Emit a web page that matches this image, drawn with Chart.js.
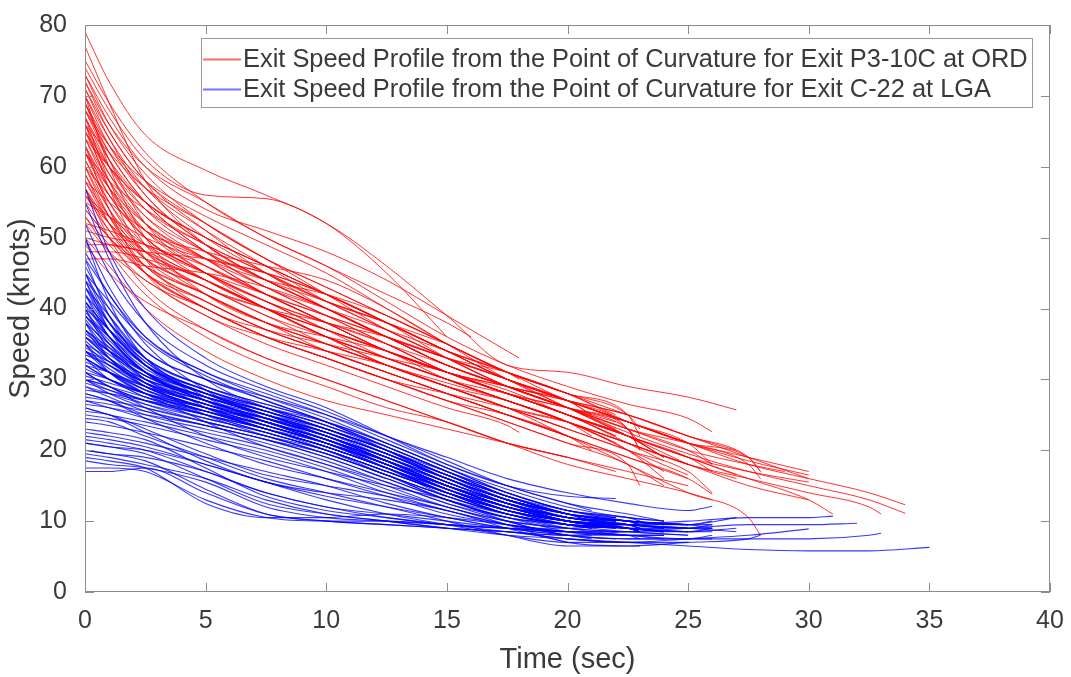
<!DOCTYPE html>
<html>
<head>
<meta charset="utf-8">
<script src="https://cdn.jsdelivr.net/npm/chart.js@4.4.0/dist/chart.umd.min.js"></script>
<style>
html, body { margin: 0; padding: 0; background: #fff; }
</style>
</head>
<body>
<canvas id="grafico" width="1071" height="677"></canvas>
<script>
// tiempos de muestreo (sec); el ultimo valor de cada perfil va en su tiempo final
const tiempos = [0, 1, 2.5, 5, 7.5, 10, 12.5, 15, 17.5, 20, 22.5, 25, 27.5, 30, 32.5];
const xTicks = [0, 5, 10, 15, 20, 25, 30, 35, 40];
const yTicks = [0, 10, 20, 30, 40, 50, 60, 70, 80];

const etiquetaOrd = 'Exit Speed Profile from the Point of Curvature for Exit P3-10C at ORD';
const etiquetaLga = 'Exit Speed Profile from the Point of Curvature for Exit C-22 at LGA';

// ORD P3-10C (rojo)
const ordFin = [15, 27, 26, 34, 34, 31, 30, 29, 25, 24, 23, 22, 20, 21, 26, 28, 24, 22, 27, 25,
  20, 23, 18, 26, 24, 30, 16, 20, 22, 25, 26, 28, 23, 21, 20, 22, 27, 24, 25, 26,
  21, 28, 33, 30, 18, 23, 15, 24, 20, 22, 25, 22, 26, 20,
  24, 22, 20, 25, 23, 26, 21, 24, 27, 20, 28, 30, 30, 18, 25, 23];
const ordVel = [
  [79, 72, 64.5, 59.5, 56, 52, 45, 36],
  [74, 68, 61, 56, 55.5, 52, 46, 39, 32, 31, 29, 27.5, 25.7],
  [72, 66, 60, 55, 50, 46, 41, 36, 32, 29, 26.5, 24.5, 22.6],
  [71, 65, 58, 52, 47, 43, 39, 35, 31, 27, 24, 21, 18, 16, 14, 12.3],
  [69, 63, 57, 51, 46, 41, 37, 33, 29, 26, 22.5, 19.5, 17, 15, 13, 11.1],
  [68, 62, 55, 48, 43, 39, 35, 31, 28, 25, 22, 19, 16, 13, 11],
  [67, 60, 53, 47, 42, 38, 34, 31, 28.5, 25, 22, 19, 17, 15.5],
  [66, 59, 52, 46, 42, 39, 36, 32, 29, 26, 23, 20, 18, 17],
  [65, 58, 51, 45, 40, 36, 33, 30, 27, 24, 21, 18],
  [64, 58, 52, 47, 43, 39, 35, 31, 28, 25, 21, 18.5],
  [70, 64, 57, 50, 45, 40, 36, 32, 29, 26, 23, 21],
  [63, 56, 50, 44, 40, 37, 34, 31, 28, 25, 22],
  [62, 55, 48, 42, 38, 35, 32, 29, 26, 23],
  [61, 55, 49, 44, 40, 37, 34, 30, 27, 24, 22],
  [60, 54, 48, 43, 40, 37, 34, 31, 28, 25, 22, 19, 17],
  [59, 53, 47, 43, 39, 36, 33, 30, 28, 26, 24, 21, 18, 16],
  [58, 53, 48, 44, 40, 36, 33, 30, 27, 24, 20, 17],
  [57, 52, 47, 43, 39, 35, 32, 29, 27, 24, 21],
  [56, 51, 46, 42, 38, 35, 32, 29.5, 27, 24, 21, 18, 16],
  [55, 50, 45, 41, 37, 34, 31, 28, 25, 22, 19, 16],
  [54, 50, 46, 42, 38, 34, 31, 28, 25, 22],
  [53, 49, 44, 40, 36, 33, 30, 27, 24, 21, 18, 15],
  [52, 48, 44, 39, 35, 32, 29, 26, 23.5, 22.5],
  [50, 49, 48, 44, 40, 36, 32, 29, 26, 23, 20, 17, 14],
  [48, 48, 47, 44, 40, 36, 33, 30, 27, 24, 20, 16],
  [51, 50, 49, 45, 41, 37, 33, 30, 27, 24, 21, 18, 15, 13],
  [75, 69, 62, 55, 50, 46, 42, 38, 36],
  [73, 66, 59, 52, 47, 43, 39, 35, 31, 28],
  [72, 65, 58, 51, 45, 41, 38, 34, 31, 28, 25],
  [70, 63, 56, 49, 44, 40, 36, 33, 30, 27, 24, 21],
  [69, 62, 55, 48, 43, 40, 37, 34, 31, 28, 24, 21, 18],
  [68, 61, 54, 48, 44, 41, 38, 34, 30, 27, 24, 21, 19, 17],
  [67, 61, 55, 50, 46, 42, 38, 34, 30, 27, 23, 20],
  [66, 60, 54, 49, 45, 41, 37, 33, 30, 27, 25],
  [65, 59, 53, 48, 44, 40, 36, 33, 30, 27],
  [64, 57, 50, 45, 41, 38, 35, 32, 29, 26, 23],
  [63, 57, 51, 46, 42, 38, 34, 31, 28, 25, 22, 19, 16.5],
  [62, 56, 50, 45, 41, 37, 34, 31, 28, 25, 22, 19],
  [61, 54, 47, 42, 38, 35, 32, 29, 26, 23, 20, 16.5],
  [60, 53, 46, 41, 37, 34, 31, 28, 25, 22, 19, 16, 13.8],
  [59, 52, 45, 40, 36, 33, 30, 27, 25, 22, 20],
  [58, 52, 46, 41, 37, 34, 31, 28, 25, 22, 18, 14, 10.5, 8],
  [57, 51, 45, 40, 36, 33, 30, 28, 26, 24, 21, 18, 16, 14, 12, 11],
  [71, 64, 56, 49, 44, 40, 36, 32, 29, 26, 23, 21, 19, 17],
  [64, 60, 55, 50, 46, 42, 38, 34, 31, 30],
  [68, 63, 58, 53, 49, 45, 40, 35, 31, 28, 25, 23],
  [62, 58, 54, 49, 45, 41, 38, 35],
  [54, 50, 45, 40, 36, 33, 30, 27, 24, 21, 18, 15],
  [56, 52, 48, 44, 40, 36, 32, 29, 26, 22],
  [66, 62, 57, 52, 47, 42, 37, 33, 29, 26, 24],
  [50, 46, 40, 34, 30, 27, 25, 23, 21, 19, 17, 15],
  [53, 48, 42, 36, 32, 29, 26, 24, 21, 19, 17],
  [49, 45, 41, 37, 33, 30, 27, 24, 21, 18, 16, 14, 13],
  [57, 50, 43, 37, 33, 30, 27, 24, 21, 19],
  [66, 57, 47, 40, 37, 35, 33, 31, 28, 25, 22, 19],
  [70, 60, 50, 42, 38, 36, 34, 31, 28, 25, 22],
  [63, 54, 45, 39, 36, 34, 32, 29, 26, 24],
  [49, 49, 48, 47, 45, 42, 38, 34, 30, 27, 24, 21],
  [47, 47, 46, 45, 43, 40, 36, 32, 29, 26, 23, 20],
  [55, 53, 50, 47, 45, 42, 38, 33, 29, 26, 23, 20, 18],
  [77, 69, 58, 49, 44, 40, 36, 32, 29, 27, 25],
  [60, 56, 51, 48, 46, 44, 40, 35, 30, 26, 22, 19],
  [58, 55, 51, 47, 44, 42, 39, 35, 31, 28, 25, 22, 20],
  [67, 58, 49, 43, 40, 38, 35, 31, 28, 26],
  [52, 51, 49, 46, 42, 38, 34, 31, 29, 27, 25, 22, 19, 17],
  [62, 57, 52, 47, 42, 38, 34, 31, 29, 27, 25, 22, 19, 16],
  [65, 60, 55, 50, 46, 42, 38, 34, 30, 27, 24, 21, 18.5, 16.5],
  [73, 67, 60, 54, 51, 48, 44, 39, 34, 33],
  [69, 61, 52, 45, 41, 38, 36, 33, 30, 26, 22, 18],
  [56, 53, 49, 45, 42, 39, 36, 33, 31, 28, 25, 22]
];

// LGA C-22 (azul)
const lgaFin = [22, 26, 24, 23, 25, 21, 22, 26, 20, 23, 24, 22, 25, 21, 23, 27, 20, 22, 24, 26,
  23, 21, 25, 22, 20, 24, 23, 26, 30, 35, 33, 32, 31, 26, 24, 22, 25, 28, 20, 23,
  26, 22, 21, 24, 20, 23, 25, 22, 21, 24, 26, 22, 23, 25, 20, 24, 21, 22, 23, 20,
  26, 27, 22, 24, 21, 25, 20, 24, 23, 21,
  22, 24, 23, 21, 25, 22, 26, 20, 24, 23, 21, 22, 25, 24, 20, 26, 23, 22, 21, 24,
  25, 22, 23, 20, 26, 24, 21, 22, 27, 23];
const lgaVel = [
  [57, 48, 40, 33, 29, 26, 22, 18, 15, 13.5, 13.2],
  [52, 45, 38, 32, 28.5, 25.5, 22, 19, 16, 14, 12.5, 11.5, 12.1],
  [50, 43, 36, 31, 28, 25, 21.5, 18, 15, 12.5, 11, 10],
  [48, 42, 36, 31, 27.5, 24.5, 21, 17.5, 14, 11.5, 10.5, 10],
  [46, 40, 34, 30, 27, 24, 20.5, 17, 14, 11.5, 10, 9.5],
  [45, 39, 33, 29, 26.5, 24, 20, 16, 13, 11, 10],
  [44, 38, 33, 29, 26, 23, 20, 17, 14, 11.5, 10.5],
  [43, 37, 32, 28.5, 26, 23.5, 20, 16, 13, 11, 10, 9.5, 9],
  [42, 37, 32, 28, 25, 22, 19, 16, 13, 11],
  [41, 36, 31, 27.5, 25, 22.5, 19.5, 16, 13, 10.5, 9.5, 9],
  [40, 35, 31, 27.5, 25, 22, 19, 15.5, 12.5, 10, 9, 8.5],
  [39, 35, 30, 27, 24.5, 22, 18.5, 15, 12, 10, 9.5],
  [38, 34, 30, 27, 24.5, 21.5, 18, 15, 12.5, 10.5, 9.5, 9],
  [37, 33, 29.5, 26.5, 24, 21, 18, 14.5, 12, 10, 9.5],
  [36, 33, 29, 26, 23.5, 21, 18, 15, 12, 10, 9, 8.5],
  [35, 32, 29, 26, 23.5, 21, 18.5, 15.5, 12.5, 10.5, 9.5, 9, 8.5],
  [34, 31, 28, 25.5, 23, 20.5, 17.5, 14.5, 12, 10.5],
  [33, 30, 28, 25, 23, 20.5, 17.5, 14.5, 11.5, 9.5, 9],
  [32, 30, 27.5, 25, 22.5, 20, 17, 14, 11.5, 10, 9, 9],
  [31, 29, 27, 24.5, 22.5, 20, 17, 14, 11.5, 10, 9, 8.5, 8.5],
  [30, 28, 26, 24, 22, 19.5, 16.5, 13.5, 11, 9.5, 9, 8.5],
  [29, 27.5, 25.5, 23.5, 21.5, 19, 16, 13, 11, 9.5, 9],
  [28, 27, 25, 23, 21, 18.5, 15.5, 12.5, 10.5, 9, 8.5, 8],
  [27, 26, 24.5, 22.5, 20.5, 18, 15, 12, 10, 9, 8.5],
  [26, 25, 24, 22, 20, 17.5, 14.5, 12, 10, 9],
  [25, 24.5, 23.5, 21.5, 19.5, 17, 14, 11.5, 9.5, 8.5, 8, 8],
  [24, 23.5, 22.5, 20.5, 18.5, 16, 13.5, 11, 9.5, 8.5, 8, 7.5],
  [22.5, 22, 21, 19, 17, 15, 12.5, 10.5, 9, 8, 7.5, 7.5, 8],
  [22, 21.5, 20.5, 18, 15.5, 13, 11, 9.5, 8, 7, 7, 7.5, 8, 8.9],
  [21, 20.5, 19.5, 16, 12.5, 11, 10, 9, 8, 7.5, 7, 6.5, 6, 5.8, 5.8, 6.3],
  [20, 19.5, 19, 17, 14, 12, 11, 10, 9, 8.5, 8, 7.5, 7.5, 7.5, 8, 8.3],
  [19.5, 19, 18, 16, 13, 11, 10, 9, 8.5, 8, 8.5, 9, 9.5, 9.5, 9.7],
  [18.5, 18, 17.5, 15.5, 12, 10.5, 10, 9.5, 9, 9, 9.5, 10, 10.5, 10.5, 10.7],
  [17.5, 17.5, 17, 13, 10.5, 10, 10, 9.5, 9, 8.5, 8.5, 8.5, 9],
  [17, 17, 17.5, 14, 11, 10, 9.5, 9, 8.5, 8, 8, 8],
  [21.5, 21, 20, 17, 14, 12, 10.5, 9.5, 9, 8.5, 8.5],
  [23, 22.5, 21.5, 17.5, 13.5, 11.5, 10.5, 9.5, 8.5, 7.5, 7, 7],
  [24.5, 24, 22, 19, 16, 14, 12, 10, 8, 6.5, 6.5, 7, 7.5, 8],
  [26, 25, 22.5, 18.5, 15.5, 14, 13, 11.5, 9, 7],
  [28, 27, 24.5, 21, 18, 16, 14, 12, 9.5, 7, 6.5, 6.5],
  [30, 29, 26, 22, 19, 17, 15, 13, 10, 8, 7.5, 7.5, 7.5],
  [33, 31, 28, 24, 20.5, 18, 15.5, 12.5, 10, 8, 7.5],
  [35, 33, 29.5, 25, 22, 19.5, 16.5, 13, 10.5, 8.5, 8],
  [38, 35, 31, 26, 23, 20.5, 17.5, 14, 11, 9, 8, 7.5],
  [40, 37, 32.5, 27, 23.5, 21, 18, 14.5, 11.5, 9.5],
  [43, 39, 33, 27.5, 24, 21.5, 18.5, 15, 12, 10, 9, 8.5],
  [47, 42, 35, 28.5, 24.5, 22, 19, 15.5, 12.5, 10.5, 9.5, 9],
  [55, 47, 38, 30, 26, 23, 20, 16.5, 13.5, 11, 10],
  [36, 34, 31, 28, 25.5, 23, 20, 16.5, 13.5, 11, 10],
  [34, 32.5, 30, 27.5, 25, 22.5, 19.5, 16.5, 13.5, 11, 10, 9.5],
  [32, 31, 29, 26.5, 24.5, 22, 19, 16, 13, 11, 10, 9.5, 9.5],
  [31, 30, 28, 26, 24, 21.5, 18.5, 15.5, 12.5, 10.5, 10],
  [29.5, 28.5, 27, 25, 23, 21, 18, 15, 12.5, 10.5, 9.5, 9],
  [27.5, 27, 26, 24, 22, 20, 17, 14, 11.5, 10, 9.5, 9.5],
  [39, 36, 32, 28.5, 26, 23.5, 20.5, 17, 13.5, 11],
  [42, 38, 33, 29, 26.5, 24, 21, 17.5, 14.5, 12, 10.5, 10],
  [44, 40, 34, 30, 27.5, 25, 22, 18.5, 15, 12.5, 11.5],
  [37, 34.5, 31, 28, 26, 24, 21, 17.5, 14, 11.5, 10.5],
  [33.5, 32, 29.5, 27, 25, 23, 20, 16.5, 13, 11, 10, 9.5],
  [30.5, 29.5, 28, 26, 24.5, 22.5, 19.5, 16, 13, 11],
  [41, 37, 32, 28, 25.5, 23, 20, 16.5, 13, 10.5, 9.5, 9, 9.5],
  [36.5, 34, 30.5, 27, 24.5, 22, 19, 15.5, 12.5, 10, 9, 8.5, 9],
  [45, 41, 35.5, 30.5, 27, 24, 20.5, 17, 13.5, 11, 10],
  [39.5, 36, 31.5, 28, 25.5, 23, 19.5, 16, 12.5, 10, 9, 8.5],
  [34.5, 32.5, 29.5, 26.5, 24, 21.5, 18.5, 15, 12, 10, 9.5],
  [32.5, 31, 28.5, 26, 23.5, 21, 18, 14.5, 11.5, 9.5, 8.5, 8],
  [21, 20.5, 20, 18, 15.5, 13.5, 12, 10.5, 9, 8],
  [19, 18.5, 17.5, 12.5, 10.5, 10.5, 11, 10.5, 9.5, 8.5, 8, 8],
  [20, 19.5, 18.5, 14.5, 11, 10, 9.5, 9, 8.5, 7.5, 7, 7],
  [25.5, 25, 23, 19.5, 16.5, 15, 13.5, 11.5, 9.5, 8, 7.5],
  [38, 33, 29, 26, 23, 20.5, 17.5, 14, 11, 9.5, 9],
  [44, 37, 31, 27, 24.5, 22, 18.5, 14.5, 11.5, 10, 9.5, 9],
  [31, 29, 27, 25, 23, 20, 16.5, 13, 10.5, 9.5, 9, 8.5],
  [35, 31, 28, 25.5, 23.5, 21, 17.5, 13.5, 11, 9.5, 9],
  [40, 34, 29.5, 26.5, 24, 21.5, 18.5, 15, 12, 10, 9, 8.5],
  [29, 28, 26.5, 24.5, 22.5, 20, 17, 14, 11.5, 10, 9.5],
  [47, 39, 32, 28, 25.5, 23, 20, 16.5, 13.5, 11, 10, 9.5, 10],
  [33, 31, 28.5, 26, 24, 21.5, 18, 14.5, 12, 10],
  [36, 33, 30, 27.5, 25.5, 23, 20, 16.5, 13.5, 11.5, 10.5, 10],
  [42, 36, 31, 27, 24, 21, 17.5, 14, 11.5, 10, 9.5, 9],
  [30, 29, 27.5, 25.5, 23, 20.5, 17.5, 14.5, 12, 10.5, 10],
  [37, 34, 30.5, 27.5, 25, 22.5, 19.5, 16, 12.5, 10.5, 10],
  [34, 31.5, 28.5, 25.5, 23, 20.5, 17.5, 14, 11, 9.5, 9, 8.5],
  [28.5, 28, 27, 25.5, 23.5, 21, 18, 15, 12, 10, 9, 8.5],
  [45, 38, 32, 28, 25, 22, 18.5, 15, 12, 10],
  [39, 35.5, 31, 27, 24.5, 22, 19, 15.5, 12.5, 10.5, 9.5, 9, 9],
  [32, 30, 27.5, 25, 22.5, 20, 17, 14, 11, 9.5, 9, 8.5],
  [41, 37, 32, 28, 25, 22.5, 19.5, 16, 13, 11, 10.5],
  [27, 26.5, 25.5, 23.5, 21.5, 19, 16, 13, 10.5, 9.5, 9],
  [35.5, 32.5, 29.5, 26.5, 24, 21.5, 18.5, 15, 12, 10, 9.5, 9],
  [50, 41, 33, 28.5, 26, 23.5, 20.5, 17, 13.5, 11, 10, 9.5],
  [33, 31, 29, 26.5, 24, 21, 18, 14.5, 11.5, 10, 9.5],
  [38.5, 34.5, 30, 26.5, 24, 21.5, 18.5, 15, 12, 10, 9, 8.5],
  [31.5, 30, 28, 25.5, 23, 20.5, 17.5, 14, 11.5, 10],
  [26.5, 26, 25, 23.5, 21.5, 19.5, 16.5, 13.5, 11, 9.5, 9, 9, 9],
  [43, 38, 32.5, 28.5, 25.5, 22.5, 19, 15.5, 12.5, 10.5, 10, 9.5],
  [36, 33.5, 30.5, 27.5, 25, 22, 18.5, 15, 12, 10, 9.5],
  [30, 28.5, 26.5, 24, 22, 19.5, 16.5, 13.5, 11, 9.5, 9],
  [40.5, 36, 31, 27.5, 25, 22.5, 19.5, 16, 13, 11, 10, 9.5, 10.5],
  [34, 32, 29, 26, 23.5, 21, 18, 15, 12.5, 10.5, 10, 9.5]
];

const colorOrd = 'rgba(255, 0, 0, 0.8)';
const colorLga = 'rgba(0, 0, 255, 0.78)';
const grisEje = '#8c8c8c';
const grisTexto = '#3a3a3a';
const fuente = '"Liberation Sans", Arial, Helvetica, sans-serif';

function puntos(vel, fin) {
  var pts = [];
  for (var i = 0; i < vel.length - 1; i++) {
    pts.push({ x: tiempos[i], y: vel[i] });
  }
  pts.push({ x: fin, y: vel[vel.length - 1] });
  return pts;
}

var datasets = [];
ordVel.forEach(function (v, i) {
  datasets.push({ label: etiquetaOrd, data: puntos(v, ordFin[i]), borderColor: colorOrd, borderWidth: 1, order: 2 });
});
lgaVel.forEach(function (v, i) {
  datasets.push({ label: etiquetaLga, data: puntos(v, lgaFin[i]), borderColor: colorLga, borderWidth: 1.1, order: 1 });
});

// caja, marcas hacia adentro y leyenda al estilo MATLAB
const cajaPlugin = {
  id: 'caja',
  afterDraw: function (chart) {
    var ctx = chart.ctx;
    var a = chart.chartArea;
    var sx = chart.scales.x, sy = chart.scales.y;
    var largo = 9;
    ctx.save();
    ctx.strokeStyle = grisEje;
    ctx.lineWidth = 1;
    ctx.strokeRect(a.left + 0.5, a.top + 0.5, a.right - a.left - 1, a.bottom - a.top - 1);
    ctx.beginPath();
    xTicks.forEach(function (t) {
      var px = Math.round(sx.getPixelForValue(t)) + 0.5;
      ctx.moveTo(px, a.bottom); ctx.lineTo(px, a.bottom - largo);
      ctx.moveTo(px, a.top); ctx.lineTo(px, a.top + largo);
    });
    yTicks.forEach(function (t) {
      var py = Math.round(sy.getPixelForValue(t)) + 0.5;
      ctx.moveTo(a.left, py); ctx.lineTo(a.left + largo, py);
      ctx.moveTo(a.right, py); ctx.lineTo(a.right - largo, py);
    });
    ctx.stroke();

    // leyenda
    var lx = 201, ly = 38, lw = 831, lh = 69;
    ctx.fillStyle = '#fff';
    ctx.fillRect(lx, ly, lw, lh);
    ctx.strokeStyle = '#9a9a9a';
    ctx.strokeRect(lx + 0.5, ly + 0.5, lw, lh);
    var filas = [[etiquetaOrd, 'rgba(255, 40, 40, 0.7)', 59], [etiquetaLga, 'rgba(40, 40, 255, 0.65)', 89]];
    ctx.font = '25.4px ' + fuente;
    ctx.textBaseline = 'middle';
    filas.forEach(function (f) {
      ctx.fillStyle = f[1];
      ctx.fillRect(203, f[2] - 0.5, 38, 2);
      ctx.fillStyle = grisTexto;
      ctx.fillText(f[0], 243, f[2] + 1);
    });
    ctx.restore();
  }
};

var grafico = new Chart(document.getElementById('grafico'), {
  type: 'line',
  data: { datasets: datasets },
  plugins: [cajaPlugin],
  options: {
    responsive: false,
    animation: false,
    layout: { padding: { left: 0, top: 15, right: 21, bottom: 0 } },
    elements: {
      point: { radius: 0 },
      line: { tension: 0.4, cubicInterpolationMode: 'monotone', fill: false }
    },
    plugins: {
      legend: { display: false },
      tooltip: { enabled: false }
    },
    scales: {
      x: {
        type: 'linear', min: 0, max: 40,
        afterFit: function (s) { s.height = 85; },
        afterBuildTicks: function (s) { s.ticks = xTicks.map(function (v) { return { value: v }; }); },
        grid: { display: false },
        border: { display: false },
        ticks: { color: grisTexto, font: { family: fuente, size: 25 }, padding: 6, maxRotation: 0 },
        title: { display: true, text: 'Time (sec)', color: grisTexto, font: { family: fuente, size: 29 }, padding: { top: 0, bottom: 0 } }
      },
      y: {
        min: 0, max: 80,
        afterFit: function (s) { s.width = 85; },
        afterBuildTicks: function (s) { s.ticks = yTicks.map(function (v) { return { value: v }; }); },
        grid: { display: false },
        border: { display: false },
        ticks: { color: grisTexto, font: { family: fuente, size: 25 }, padding: 10 },
        title: { display: true, text: 'Speed (knots)', color: grisTexto, font: { family: fuente, size: 29 }, padding: { top: 4, bottom: 0 } }
      }
    }
  }
});
</script>
</body>
</html>
